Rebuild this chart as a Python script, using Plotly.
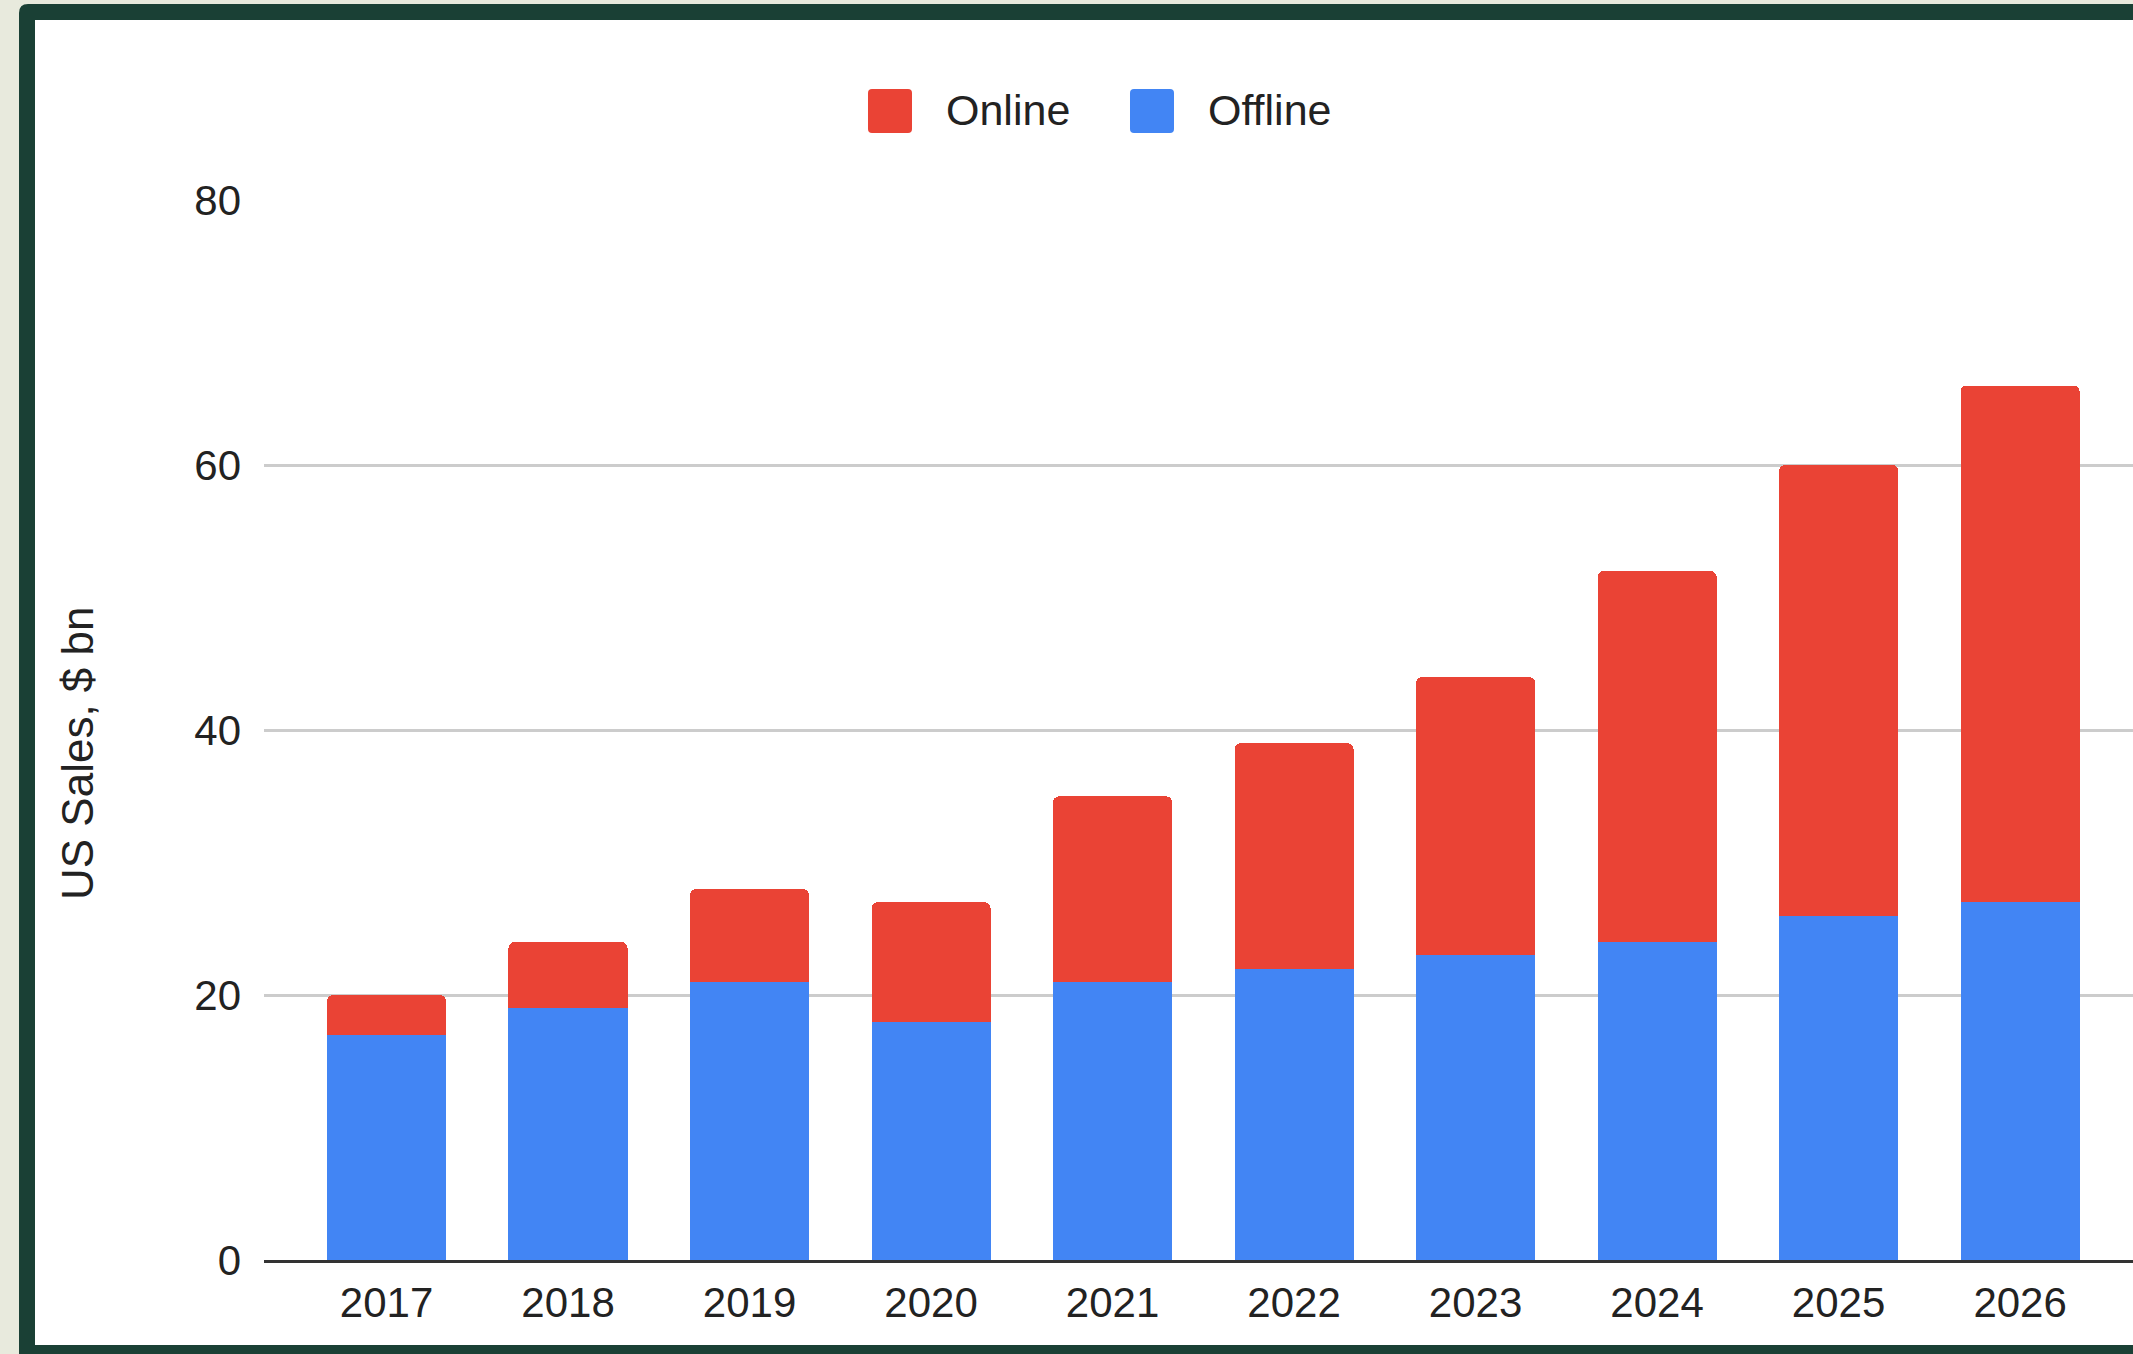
import plotly.graph_objects as go

years = ["2017", "2018", "2019", "2020", "2021", "2022", "2023", "2024", "2025", "2026"]
offline = [17, 19, 21, 18, 21, 22, 23, 24, 26, 27]
online = [3, 5, 7, 9, 14, 17, 21, 28, 34, 39]
series_names = ["Online", "Offline"]
y_ticks = [0, 20, 40, 60, 80]
y_title = "US Sales, $ bn"

RED = "#EA4335"
BLUE = "#4285F4"
GREEN = "#1a4035"
BEIGE = "#e8eadd"
FONT = "Arial, 'Liberation Sans', Arimo, sans-serif"

W, H = 2133, 1354
L, R, T, B = 264, 0, 200, 94


def px(x):
    return (x - L) / (W - L - R)


def py(y):
    return (H - B - y) / (H - T - B)


def rounded_path(x0, y0, x1, y1, r, corners=("tl", "tr", "br", "bl")):
    def p(x, y):
        return f"{px(x):.6f},{py(y):.6f}"
    s = ""
    if "tl" in corners:
        s += f"M{p(x0, y0 + r)} Q{p(x0, y0)} {p(x0 + r, y0)} "
    else:
        s += f"M{p(x0, y0)} "
    if "tr" in corners:
        s += f"L{p(x1 - r, y0)} Q{p(x1, y0)} {p(x1, y0 + r)} "
    else:
        s += f"L{p(x1, y0)} "
    if "br" in corners:
        s += f"L{p(x1, y1 - r)} Q{p(x1, y1)} {p(x1 - r, y1)} "
    else:
        s += f"L{p(x1, y1)} "
    if "bl" in corners:
        s += f"L{p(x0 + r, y1)} Q{p(x0, y1)} {p(x0, y1 - r)} "
    else:
        s += f"L{p(x0, y1)} "
    s += "Z"
    return s


fig = go.Figure()
fig.add_trace(go.Bar(x=years, y=offline, name=series_names[1], marker=dict(color=BLUE, line=dict(width=0))))
fig.add_trace(go.Bar(x=years, y=online, name=series_names[0], marker=dict(color=RED, line=dict(width=0))))

shapes = [
    dict(type="path", xref="paper", yref="paper", layer="below",
         path=rounded_path(19, 4, W + 20, H + 20, 9, corners=("tl",)),
         fillcolor=GREEN, line=dict(width=0)),
    dict(type="path", xref="paper", yref="paper", layer="below",
         path=rounded_path(35, 20, W + 20, 1345, 0, corners=()),
         fillcolor="white", line=dict(width=0)),
    dict(type="path", xref="paper", yref="paper", layer="above",
         path=rounded_path(868, 89, 912, 133, 4),
         fillcolor=RED, line=dict(width=0)),
    dict(type="path", xref="paper", yref="paper", layer="above",
         path=rounded_path(1130, 89, 1174, 133, 4),
         fillcolor=BLUE, line=dict(width=0)),
]

annotations = [
    dict(x=px(944), y=py(110), xref="paper", yref="paper", text=series_names[0],
         showarrow=False, xanchor="left", yanchor="middle",
         font=dict(family=FONT, size=43, color="#222222")),
    dict(x=px(1206), y=py(110), xref="paper", yref="paper", text=series_names[1],
         showarrow=False, xanchor="left", yanchor="middle",
         font=dict(family=FONT, size=43, color="#222222")),
    dict(x=px(78), y=py(753), xref="paper", yref="paper", text=y_title,
         showarrow=False, textangle=-90, xanchor="center", yanchor="middle",
         font=dict(family=FONT, size=44, color="#222222")),
]

fig.update_layout(
    width=W, height=H,
    margin=dict(l=L, r=R, t=T, b=B, pad=0),
    paper_bgcolor=BEIGE,
    plot_bgcolor="rgba(0,0,0,0)",
    barmode="stack",
    bargap=0.344,
    barcornerradius=6,
    showlegend=False,
    shapes=shapes,
    annotations=annotations,
    font=dict(family=FONT, size=42, color="#222222"),
    xaxis=dict(
        type="category",
        range=[-0.675, 9.622],
        showgrid=False,
        showline=True, linecolor="#333333", linewidth=3,
        ticks="", ticklabelstandoff=4,
        tickfont=dict(family=FONT, size=42, color="#222222"),
        fixedrange=True,
    ),
    yaxis=dict(
        range=[0, 80],
        tickvals=y_ticks,
        showgrid=True, gridcolor="#cccccc", gridwidth=2.5,
        zeroline=False,
        showline=False,
        ticks="", ticklabelstandoff=22,
        tickfont=dict(family=FONT, size=42, color="#222222"),
        fixedrange=True,
    ),
)

fig.write_html(
    "out.html",
    config={"displayModeBar": False},
    post_script="document.body.style.margin='0';document.body.style.overflow='hidden';",
)
